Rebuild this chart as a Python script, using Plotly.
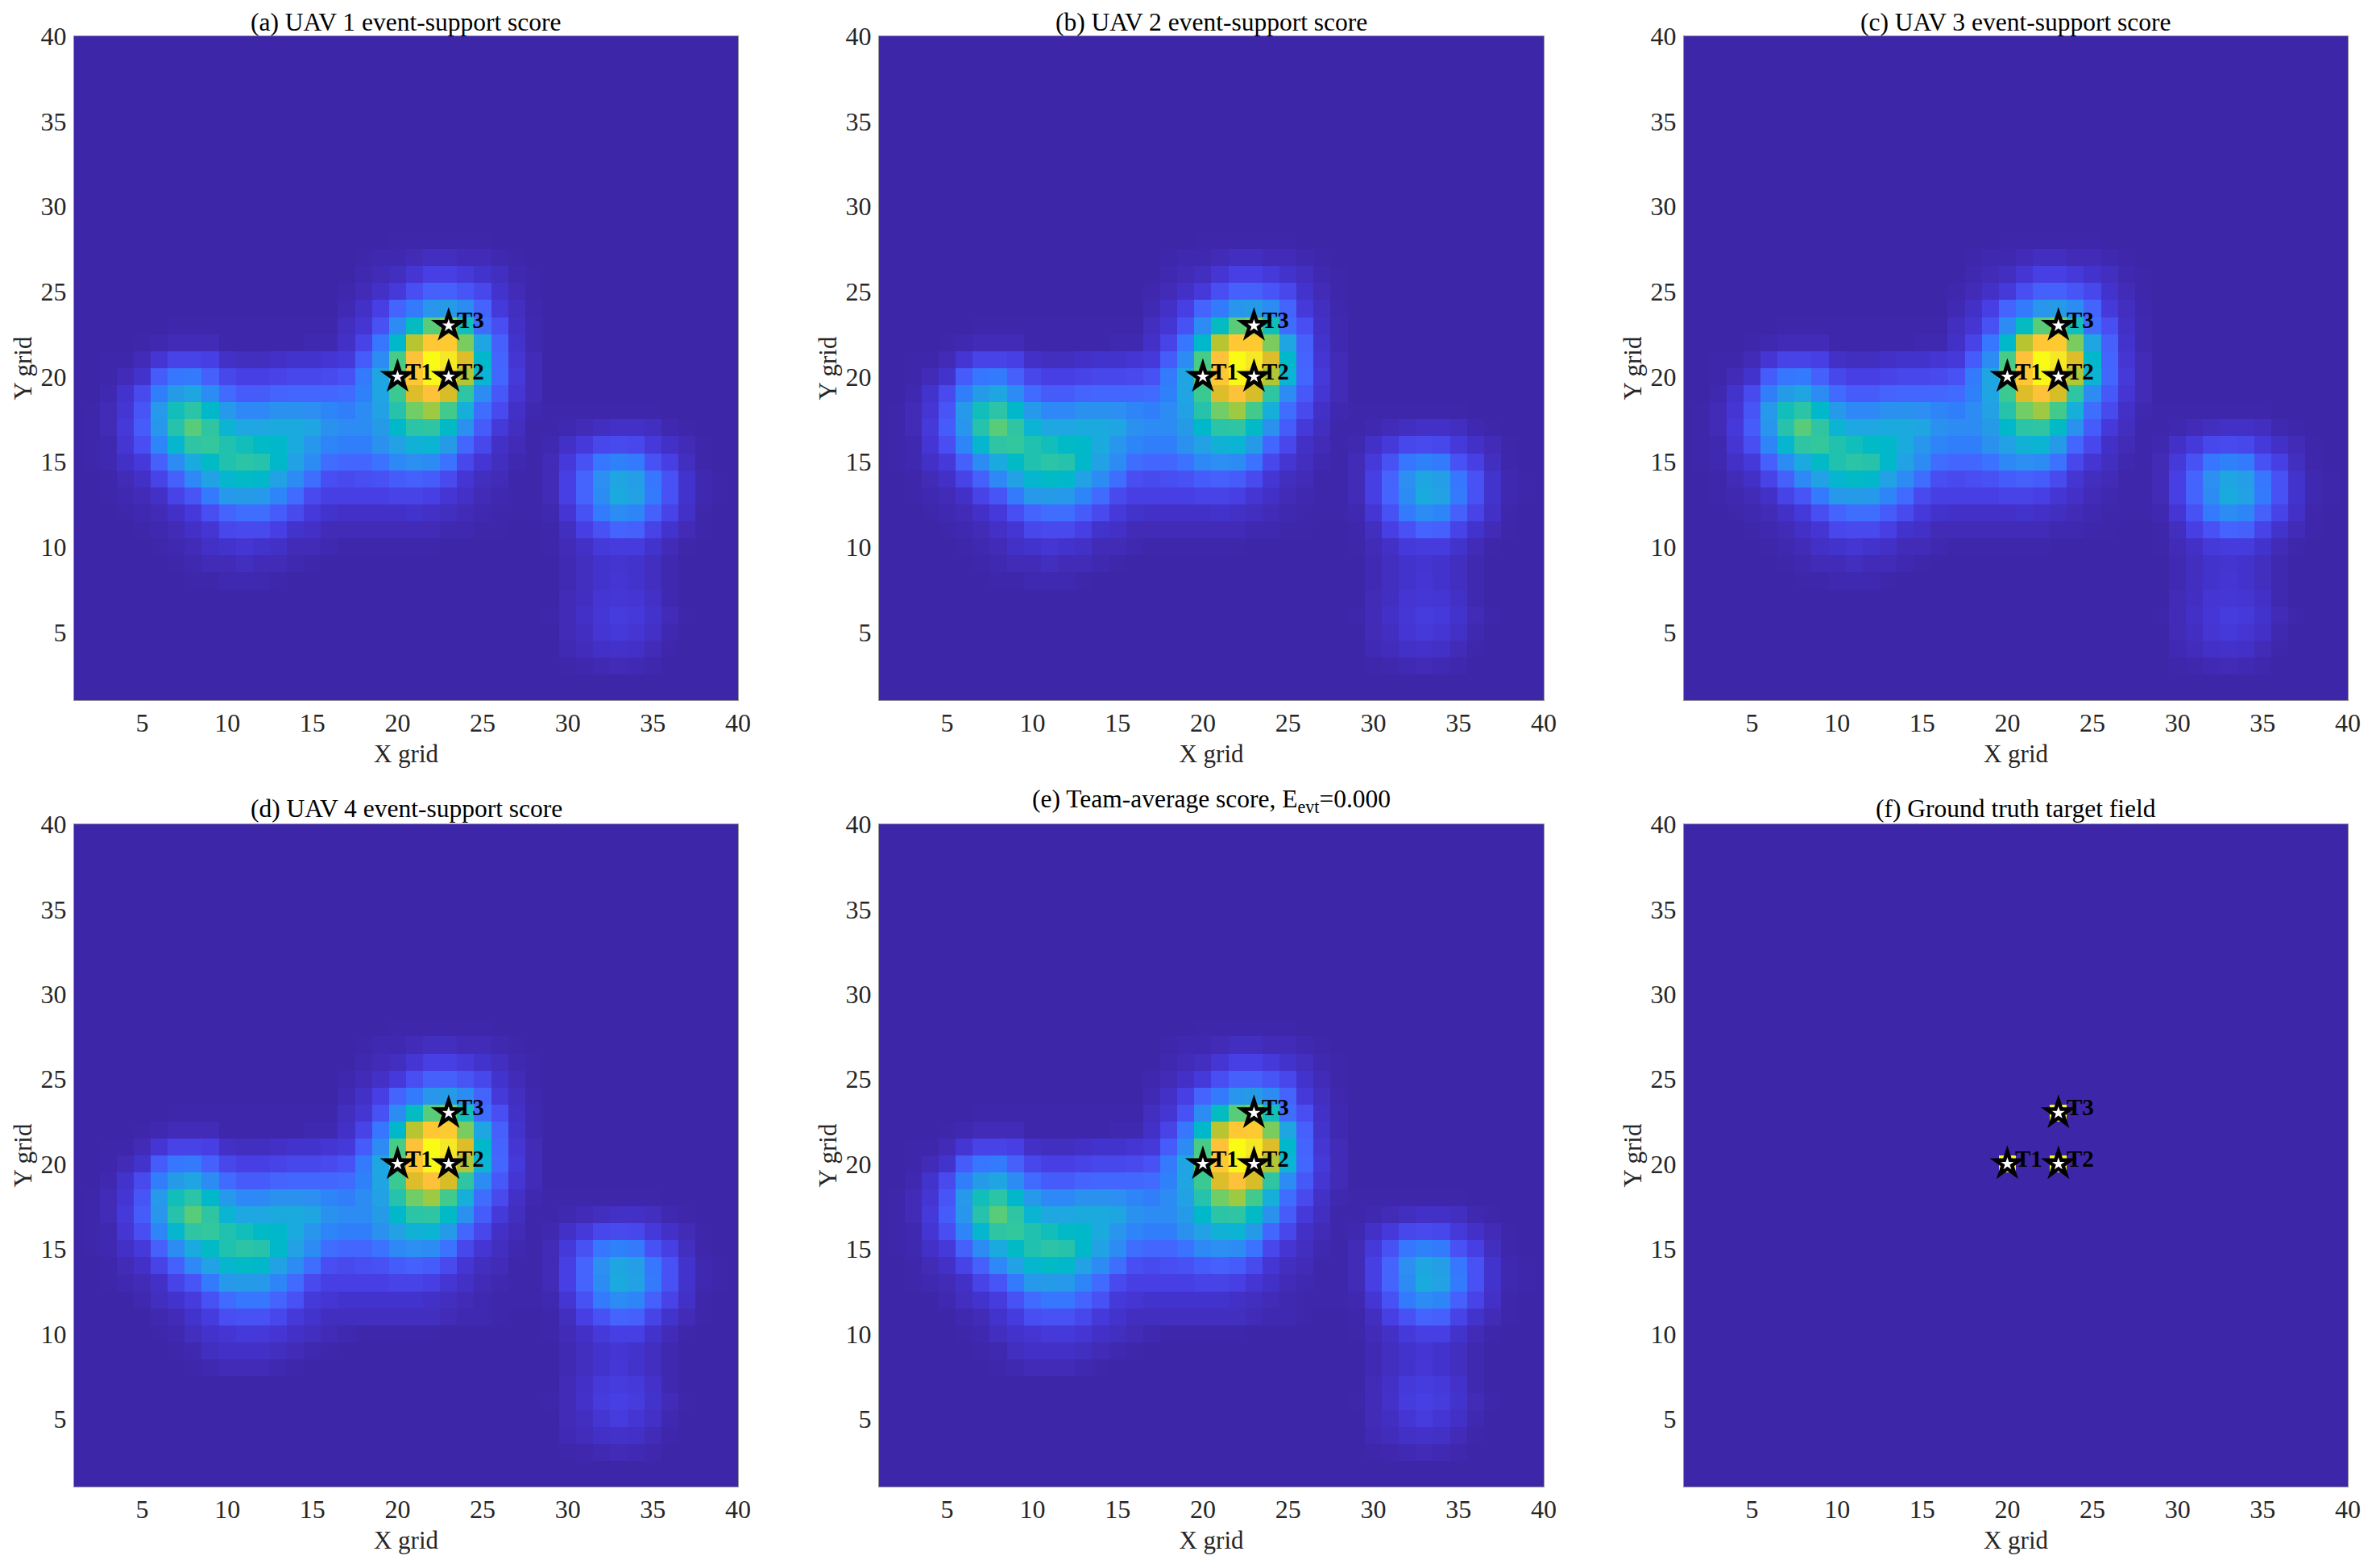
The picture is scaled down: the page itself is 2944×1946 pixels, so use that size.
import numpy as np
import plotly.graph_objects as go

W, H = 2944, 1946
GRID_X = list(range(1, 41))
GRID_Y = list(range(1, 41))
TICKS = [5, 10, 15, 20, 25, 30, 35, 40]
TITLES = [
    "(a) UAV 1 event-support score",
    "(b) UAV 2 event-support score",
    "(c) UAV 3 event-support score",
    "(d) UAV 4 event-support score",
    "(e) Team-average score, E<sub>evt</sub>=0.000",
    "(f) Ground truth target field",
]
TARGET_X = [20, 23, 23]
TARGET_Y = [20, 20, 23]
TARGET_LABELS = ["T1", "T2", "T3"]

PARULA_RGB = [
    (0.2422,0.1504,0.6603),(0.2504,0.1650,0.7076),(0.2578,0.1818,0.7511),(0.2647,0.1978,0.7952),
    (0.2706,0.2147,0.8364),(0.2751,0.2342,0.8710),(0.2783,0.2559,0.8991),(0.2803,0.2782,0.9221),
    (0.2813,0.3006,0.9414),(0.2810,0.3228,0.9579),(0.2795,0.3447,0.9717),(0.2760,0.3667,0.9829),
    (0.2699,0.3892,0.9906),(0.2602,0.4123,0.9952),(0.2440,0.4358,0.9988),(0.2206,0.4603,0.9973),
    (0.1963,0.4847,0.9892),(0.1834,0.5074,0.9798),(0.1786,0.5289,0.9682),(0.1764,0.5499,0.9520),
    (0.1687,0.5703,0.9359),(0.1540,0.5902,0.9218),(0.1460,0.6091,0.9079),(0.1380,0.6276,0.8973),
    (0.1248,0.6459,0.8883),(0.1113,0.6635,0.8763),(0.0952,0.6798,0.8598),(0.0689,0.6948,0.8394),
    (0.0297,0.7082,0.8163),(0.0036,0.7203,0.7917),(0.0067,0.7312,0.7660),(0.0433,0.7411,0.7394),
    (0.0964,0.7500,0.7120),(0.1408,0.7584,0.6842),(0.1717,0.7670,0.6554),(0.1938,0.7758,0.6251),
    (0.2161,0.7843,0.5923),(0.2470,0.7918,0.5567),(0.2906,0.7973,0.5188),(0.3406,0.8008,0.4789),
    (0.3909,0.8029,0.4354),(0.4456,0.8024,0.3909),(0.5044,0.7993,0.3480),(0.5616,0.7942,0.3045),
    (0.6174,0.7876,0.2612),(0.6720,0.7793,0.2227),(0.7242,0.7698,0.1910),(0.7738,0.7598,0.1646),
    (0.8203,0.7498,0.1535),(0.8634,0.7406,0.1596),(0.9035,0.7330,0.1774),(0.9393,0.7288,0.2100),
    (0.9728,0.7298,0.2394),(0.9956,0.7434,0.2371),(0.9970,0.7659,0.2199),(0.9952,0.7861,0.1976),
    (0.9892,0.8136,0.1885),(0.9786,0.8386,0.1766),(0.9676,0.8639,0.1643),(0.9610,0.8890,0.1537),
    (0.9597,0.9135,0.1423),(0.9628,0.9373,0.1265),(0.9691,0.9606,0.1064),(0.9769,0.9839,0.0805),
]

# Scores, in percent: y -> [(first x, values), ...]
SCORE_ROWS = {
    3: [(30, [.5,.8,1.5,2,1.5,.8])],
    4: [(30, [1.5,2.5,4,4.5,4,2,.5])],
    5: [(30, [2,3.5,6,7,6,4,1])],
    6: [(29, [.5,2,4,6.5,8,7,5,2,.5])],
    7: [(30, [2,3.5,6,6.5,6,4,1])],
    8: [(8, [.3,.5,1,1,1,.5]), (30, [1.5,3,5,6,5,3,1])],
    9: [(7, [.3,1,2,2,3,2,2,1,.5]), (30, [1.5,3,5,5.5,5,3,1])],
    10: [(6, [.3,1,2,4,5,6,5,4,2,2,1,.5,.5,.5,.5,.5,.5]), (29, [.5,2,4,7,8,8,5,2,.5])],
    11: [(5, [.5,1,2,4,6,11,12,12,9,5,4,2,2,2,2,2,2,2,1,1,.5,.5,0,0,.5,3,9,14,19,18,10,5,2,.5])],
    12: [(4, [.5,1,2,4,7,13,19,22,22,17,12,7,5,4,4,4,4,5,4,3,2,1,.5,.5,.5,1,6,14,25,30,28,18,10,4,.5])],
    13: [(3, [.5,1,2,4,10,15,25,34,35,34,28,21,12,9,9,9,9,10,10,9,6,4,2,1,.5,.5,2,9,19,30,40,37,25,14,5,1,.5])],
    14: [(3, [.5,2,4,10,18,29,37,45,47,46,37,30,22,13,12,13,14,17,18,17,12,6,3,2,.5,.5,2,9,19,31,38,36,24,14,5,1,.5])],
    15: [(2, [.5,1,4,7,18,30,40,47,52,54,53,46,37,30,22,20,20,23,29,31,30,23,11,6,3,1,.5,2,7,14,24,27,25,14,9,3,.5])],
    16: [(2, [.5,1,6,13,28,45,55,56,52,50,47,46,40,33,28,26,26,32,37,43,44,35,20,11,4,2,.5,1,4,7,11,12,11,7,4,2,.5])],
    17: [(2, [.5,2,7,17,33,53,62,55,44,39,39,40,40,38,32,30,30,35,46,54,55,47,32,17,7,3,.5,.5,1,2,3,4,4,3,1,.5])],
    18: [(2, [.5,2,6,15,34,50,54,46,34,29,29,32,32,31,28,26,30,37,53,65,70,59,42,22,12,4,1,.5,.5,.5,.5,.5,.5,.5])],
    19: [(3, [1,5,12,26,35,38,30,21,17,17,19,20,20,20,21,27,38,58,78,85,77,55,30,16,6,2])],
    20: [(3, [.5,2,5,17,24,25,18,11,9,9,10,11,11,12,14,25,38,62,87,99,92,72,44,20,7,2])],
    21: [(3, [.5,.5,2,6,10,10,9,4,3,3,4,5,5,6,7,17,30,60,85,100,95,78,46,19,6,2])],
    22: [(5, [.5,1,2,2,2,.5,.5,.5,.5,.5,1,1,4,10,24,46,73,87,88,66,38,18,5,1])],
    23: [(7, [.5,.5,.5,.5,.5,.5,.5,.5,.5,.5,3,6,14,30,48,62,66,50,22,13,4,1])],
    24: [(17, [1.5,4,9,19,25,33,35,30,19,7,3,.8])],
    25: [(17, [.8,2,4,7,13,18,18,15,11,5,2,.3])],
    26: [(18, [1,2,3,6,9,9,7,5,3,1,.3])],
    27: [(18, [.3,1,1,2,3,3,2,2,1,.3])],
    28: [(20, [.3,.3,.5,.5,.5,.3])],
}
# Rows that read a little brighter in panels (d) and (e)
SCORE_ROWS_DE = {
    5: [(30, [2,3.5,6,8,6,4,1])],
    6: [(29, [.5,2,4.5,8,9,8,5,2,.5])],
    7: [(30, [2,4,7,8,7,4.5,1])],
    8: [(8, [.5,1,2,2,2,1,.5]), (30, [1.5,3,5,6.5,5,3,1])],
    9: [(7, [.5,1,3,4,4,4,3,2,1,.5]), (30, [1.5,3,5,6,5,3,1])],
    10: [(6, [.5,1,3,5,6,7,7,6,4,3,2,1,.5,.5,.5,.5,.5]), (29, [.5,2,4,7,9,9,5,2,.5])],
    11: [(6, [1,2,5,8,13,14,14,11,7,5,3,3,3,3,3,3,3,2,1,1,.5,0,0,.5,3,9,14,19,18,10,5,2,.5])],
    12: [(5, [1,3,5,8,14,21,24,24,19,14,7,6,5,5,5,5,5,4,3,2,1,.5,.5,.5,1,6,14,25,30,28,18,10,4,.5])],
}
GROUND_TRUTH_PCT = [100, 100, 100]


def to_grid(*tables):
    z = np.zeros((len(GRID_Y), len(GRID_X)))
    for table in tables:
        for y, segments in table.items():
            z[y - 1, :] = 0
            for start, values in segments:
                z[y - 1, start - 1:start - 1 + len(values)] = np.array(values) / 100
    return z


truth = np.zeros((len(GRID_Y), len(GRID_X)))
for tx, ty, v in zip(TARGET_X, TARGET_Y, GROUND_TRUTH_PCT):
    truth[ty - 1, tx - 1] = v / 100

FIELDS = [to_grid(SCORE_ROWS), to_grid(SCORE_ROWS), to_grid(SCORE_ROWS),
          to_grid(SCORE_ROWS, SCORE_ROWS_DE), to_grid(SCORE_ROWS, SCORE_ROWS_DE), truth]

colorscale = [[i / (len(PARULA_RGB) - 1), f"rgb({r*255:.0f},{g*255:.0f},{b*255:.0f})"]
              for i, (r, g, b) in enumerate(PARULA_RGB)]

COL_PX = [(92, 916), (1091, 1916), (2090, 2914)]
ROW_PX = [(45, 869), (1023, 1845)]
FONT = "Liberation Serif"
INK = "#262626"

fig = go.Figure()
layout = dict(width=W, height=H, margin=dict(l=0, r=0, t=0, b=0, autoexpand=False),
              paper_bgcolor="white", plot_bgcolor="white", showlegend=False,
              font=dict(family=FONT, size=32, color=INK))
annotations = []
for i, z in enumerate(FIELDS):
    n = "" if i == 0 else str(i + 1)
    c, r = i % 3, i // 3
    x0, x1 = COL_PX[c]
    y0, y1 = ROW_PX[r]
    fig.add_trace(go.Heatmap(x=GRID_X, y=GRID_Y, z=z, zmin=0, zmax=1, colorscale=colorscale,
                             showscale=False, xaxis=f"x{n}", yaxis=f"y{n}", zsmooth=False))
    fig.add_trace(go.Scatter(x=TARGET_X, y=TARGET_Y, mode="markers", xaxis=f"x{n}", yaxis=f"y{n}",
                             marker=dict(symbol="star", size=33, color="black", line=dict(width=0))))
    fig.add_trace(go.Scatter(x=TARGET_X, y=TARGET_Y, mode="markers", xaxis=f"x{n}", yaxis=f"y{n}",
                             marker=dict(symbol="star", size=12, color="white", line=dict(width=0))))
    axis = dict(range=[1, 40], tickmode="array", tickvals=TICKS, ticks="", showgrid=False, zeroline=False,
                showline=True, mirror=True, linecolor="#9a9a9a", linewidth=1,
                tickfont=dict(family=FONT, size=32, color=INK))
    layout[f"xaxis{n}"] = dict(axis, domain=[x0 / W, x1 / W], anchor=f"y{n}",
                               title=dict(text="X grid", font=dict(family=FONT, size=31, color=INK), standoff=9))
    layout[f"yaxis{n}"] = dict(axis, domain=[1 - y1 / H, 1 - y0 / H], anchor=f"x{n}", ticklabelstandoff=2,
                               title=dict(text="Y grid", font=dict(family=FONT, size=31, color=INK), standoff=1))
    title_shift = {0: -2, 1: -2, 2: -2, 3: 0, 4: 7, 5: 0}[i]
    annotations.append(dict(text=TITLES[i], xref=f"x{n} domain", yref=f"y{n} domain", x=0.5, y=1,
                            xanchor="center", yanchor="bottom", yshift=title_shift, showarrow=False,
                            font=dict(family=FONT, size=31.5, color="black")))
    for tx, ty, lab in zip(TARGET_X, TARGET_Y, TARGET_LABELS):
        annotations.append(dict(text=f"<b>{lab}</b>", xref=f"x{n}", yref=f"y{n}", x=tx, y=ty,
                                xanchor="left", yanchor="middle", xshift=8, yshift=7, showarrow=False,
                                font=dict(family=FONT, size=29, color="black")))
layout["annotations"] = annotations
fig.update_layout(**layout)
fig.write_html("out.html", config={"displayModeBar": False},
               post_script="document.body.style.margin='0';")
